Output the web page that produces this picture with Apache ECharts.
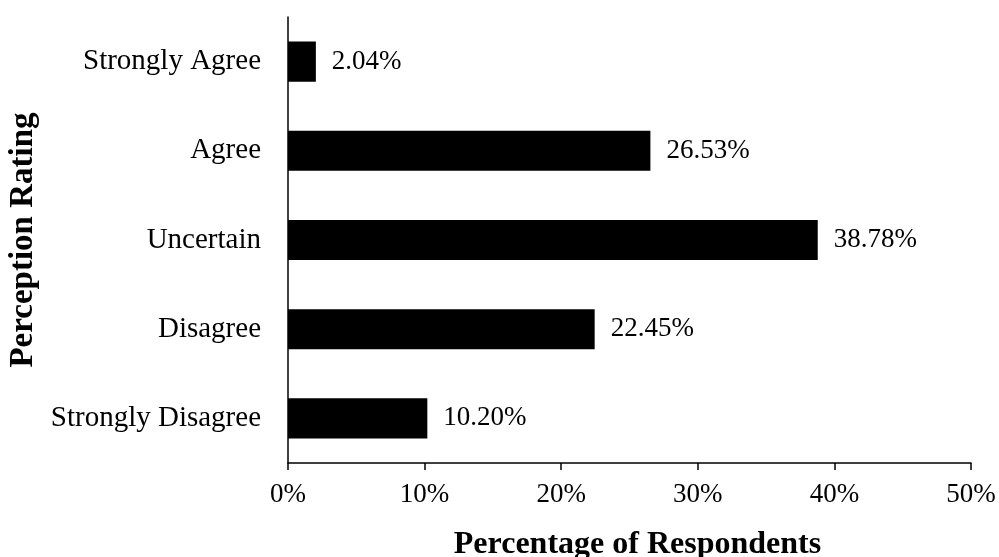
<!DOCTYPE html>
<html>
<head>
<meta charset="utf-8">
<script src="https://cdn.jsdelivr.net/npm/echarts@6/dist/echarts.min.js"></script>
<style>
  html, body { margin: 0; padding: 0; background: #fff; }
  #chart { width: 999px; height: 557px; }
</style>
</head>
<body>
<div id="chart"></div>
<script>
// categories from bottom to top
var categories = ["Strongly Disagree", "Disagree", "Uncertain", "Agree", "Strongly Agree"];
var percentValues = [10.20, 22.45, 38.78, 26.53, 2.04];
var xTicks = [0, 10, 20, 30, 40, 50];

var chart = echarts.init(document.getElementById("chart"));
var font = "'Liberation Serif', 'Times New Roman', serif";

var option = {
  animation: false,
  textStyle: { fontFamily: font },
  grid: { left: 288, right: 28, top: 17, bottom: 94, containLabel: false, outerBoundsMode: "none" },
  xAxis: {
    type: "value",
    min: xTicks[0],
    max: xTicks[xTicks.length - 1],
    interval: 10,
    name: "Percentage of Respondents",
    nameLocation: "middle",
    nameGap: 66,
    nameTextStyle: { fontFamily: font, fontSize: 32, fontWeight: "bold", color: "#000", padding: [0, 0, 0, 16] },
    axisLine: { show: true, lineStyle: { color: "#000", width: 1.5 } },
    axisTick: { show: true, length: 7, lineStyle: { color: "#000", width: 1.5 } },
    axisLabel: {
      margin: 18,
      fontFamily: font, fontSize: 27, color: "#000",
      formatter: function (v) { return v + "%"; }
    },
    splitLine: { show: false }
  },
  yAxis: {
    type: "category",
    data: categories,
    name: "Perception Rating",
    nameLocation: "middle",
    nameRotate: 90,
    nameGap: 244,
    nameTextStyle: { fontFamily: font, fontSize: 33, fontWeight: "bold", color: "#000" },
    axisLine: { show: true, lineStyle: { color: "#000", width: 1.5 } },
    axisTick: { show: false },
    axisLabel: { margin: 27, fontFamily: font, fontSize: 29, color: "#000" }
  },
  series: [{
    type: "bar",
    data: percentValues,
    barWidth: "45%",
    itemStyle: { color: "#000" },
    label: {
      show: true,
      position: "right",
      distance: 16,
      fontFamily: font, fontSize: 27, color: "#000",
      formatter: function (p) { return p.value.toFixed(2) + "%"; }
    }
  }]
};
chart.setOption(option);
</script>
</body>
</html>
